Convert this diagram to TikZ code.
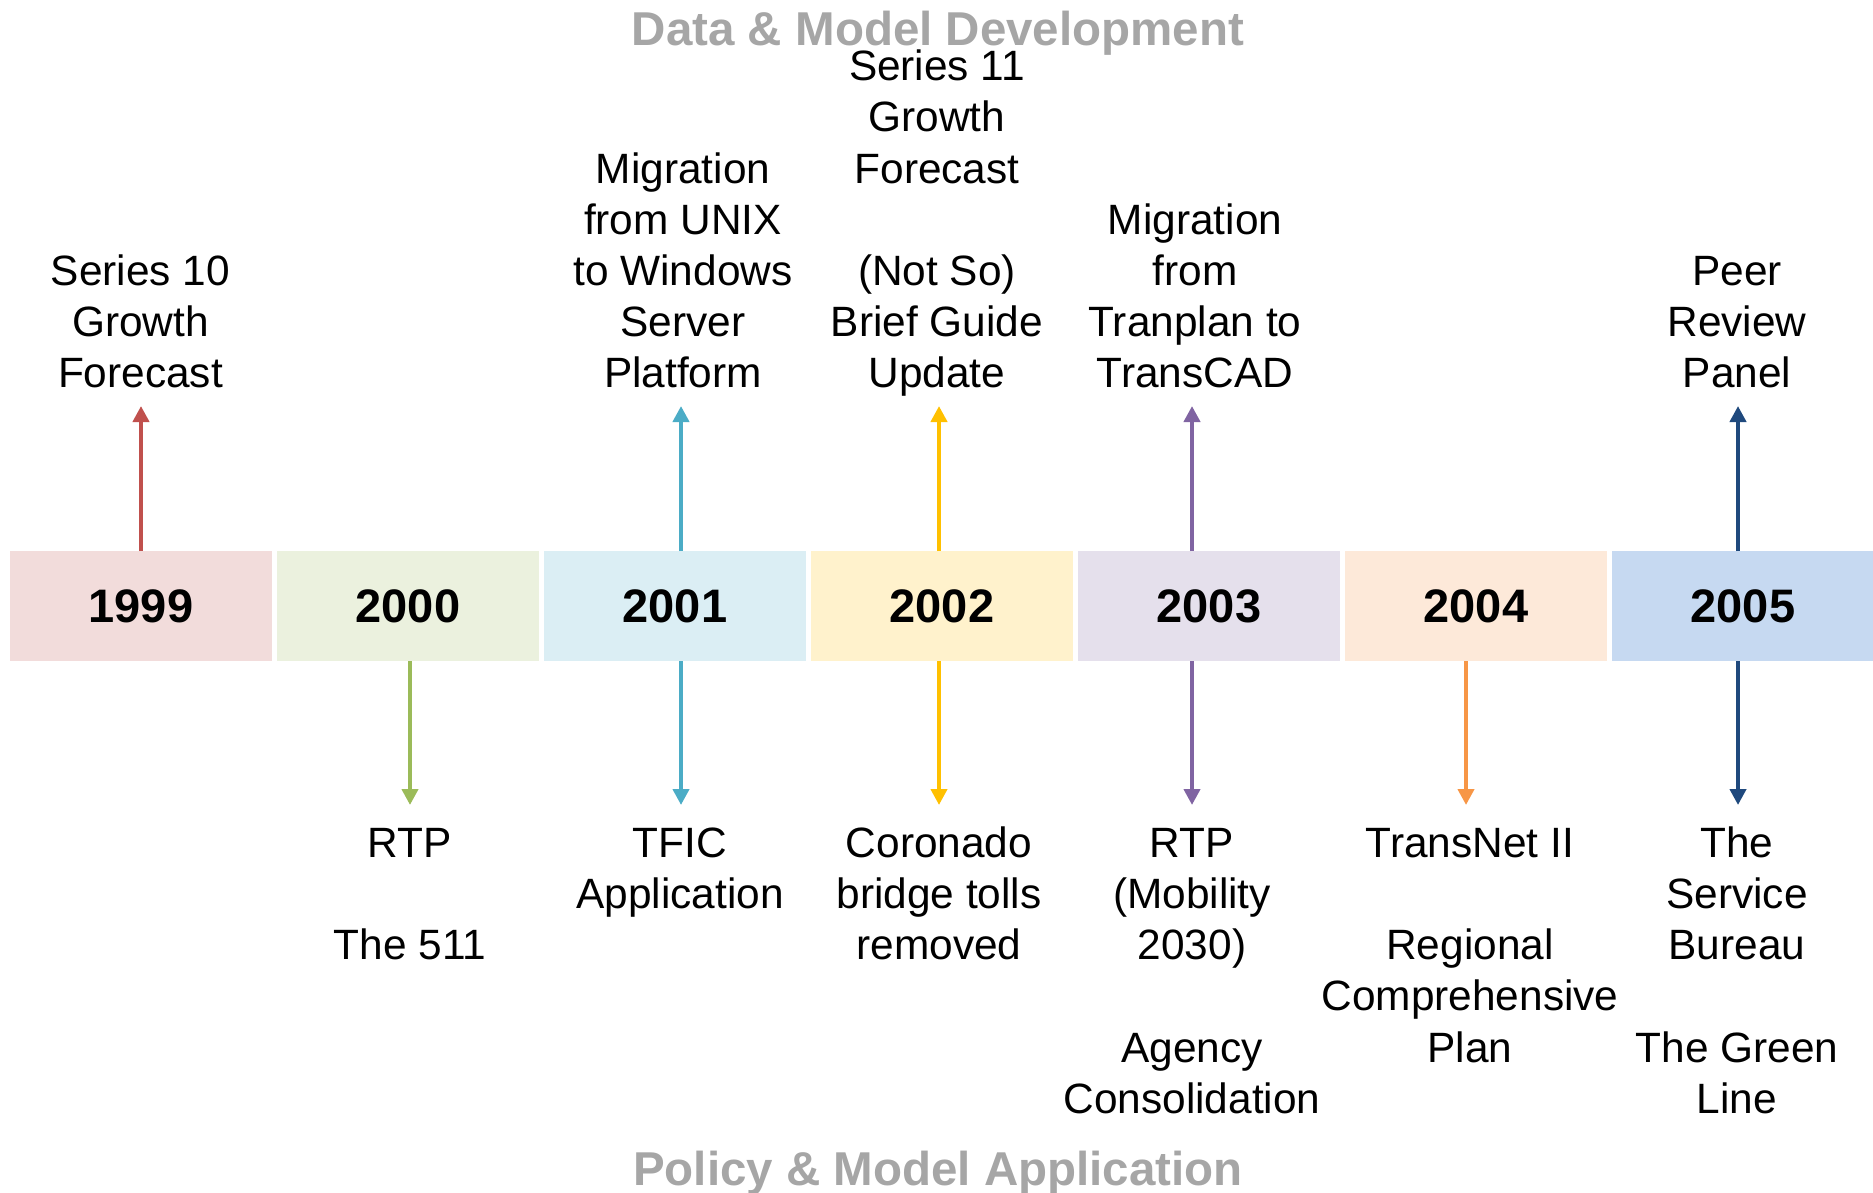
\documentclass[tikz,border=0pt]{standalone}
\usepackage{fontspec}
\setmainfont{Liberation Sans}
\usetikzlibrary{arrows.meta}
\definecolor{fA}{HTML}{F2DCDB}\definecolor{aA}{HTML}{C0504D}
\definecolor{fB}{HTML}{EBF1DE}\definecolor{aB}{HTML}{9BBB59}
\definecolor{fC}{HTML}{DBEEF4}\definecolor{aC}{HTML}{4BACC6}
\definecolor{fD}{HTML}{FFF2CC}\definecolor{aD}{HTML}{FFC000}
\definecolor{fE}{HTML}{E5E0EC}\definecolor{aE}{HTML}{8064A2}
\definecolor{fF}{HTML}{FDE9D9}\definecolor{aF}{HTML}{F79646}
\definecolor{fG}{HTML}{C6D9F1}\definecolor{aG}{HTML}{1F497D}
\definecolor{hdrgray}{HTML}{A6A6A6}
\begin{document}
\begin{tikzpicture}[x=1pt,y=-1pt,
  yearbox/.style={fill=#1, minimum width=262.5pt, minimum height=110pt, inner sep=0pt,
    anchor=north west, font=\fontsize{47}{56}\selectfont\bfseries},
  toplabel/.style={anchor=south, inner sep=0pt, align=center, font=\fontsize{42.4}{51.2}\selectfont},
  botlabel/.style={anchor=north, inner sep=0pt, align=center, font=\fontsize{42.4}{51.2}\selectfont},
  hdr/.style={anchor=base, inner sep=0pt, text=hdrgray, font=\fontsize{47.5}{57}\selectfont\bfseries},
  arr/.style={draw=#1, line width=4.8pt, -{Triangle[width=16pt,length=16pt]}}
]
\useasboundingbox (0,0) rectangle (1873,1192);

% headers
\node[hdr] (hdrtop) at (938,45) {Data \& Model Development};
\node[hdr] (hdrbot) at (938,1185) {Policy \& Model Application};

% year boxes
\node[yearbox=fA] (b1) at (9.5,551) {1999};
\node[yearbox=fB] (b2) at (276.5,551) {2000};
\node[yearbox=fC] (b3) at (543.5,551) {2001};
\node[yearbox=fD] (b4) at (810.5,551) {2002};
\node[yearbox=fE] (b5) at (1077.5,551) {2003};
\node[yearbox=fF] (b6) at (1344.5,551) {2004};
\node[yearbox=fG] (b7) at (1611.5,551) {2005};

% arrow tips
\coordinate (u1) at (141,406);
\coordinate (u3) at (681,406);
\coordinate (u4) at (939,406);
\coordinate (u5) at (1192,406);
\coordinate (u7) at (1738,406);
\coordinate (d2) at (410,805);
\coordinate (d3) at (681,805);
\coordinate (d4) at (939,805);
\coordinate (d5) at (1192,805);
\coordinate (d6) at (1466,805);
\coordinate (d7) at (1738,805);

% arrows
\draw[arr=aA] (b1.north -| u1) -- (u1);
\draw[arr=aC] (b3.north -| u3) -- (u3);
\draw[arr=aD] (b4.north -| u4) -- (u4);
\draw[arr=aE] (b5.north -| u5) -- (u5);
\draw[arr=aG] (b7.north -| u7) -- (u7);
\draw[arr=aB] (b2.south -| d2) -- (d2);
\draw[arr=aC] (b3.south -| d3) -- (d3);
\draw[arr=aD] (b4.south -| d4) -- (d4);
\draw[arr=aE] (b5.south -| d5) -- (d5);
\draw[arr=aF] (b6.south -| d6) -- (d6);
\draw[arr=aG] (b7.south -| d7) -- (d7);

% upper labels
\node[toplabel] (t1) at (140.5,403.4) {\strut Series 10\\\strut Growth\\\strut Forecast};
\node[toplabel] (t3) at (683,403.4) {\strut Migration\\\strut from UNIX\\\strut to Windows\\\strut Server\\\strut Platform};
\node[toplabel] (t4) at (937,403.4) {\strut Series 11\\\strut Growth\\\strut Forecast\\\strut\\\strut (Not So)\\\strut Brief Guide\\\strut Update};
\node[toplabel] (t5) at (1195,403.4) {\strut Migration\\\strut from\\\strut Tranplan to\\\strut TransCAD};
\node[toplabel] (t7) at (1737,403.4) {\strut Peer\\\strut Review\\\strut Panel};

% lower labels
\node[botlabel] (l2) at (410,821.2) {\strut RTP\\\strut\\\strut The 511};
\node[botlabel] (l3) at (680,821.2) {\strut TFIC\\\strut Application};
\node[botlabel] (l4) at (939,821.2) {\strut Coronado\\\strut bridge tolls\\\strut removed};
\node[botlabel] (l5) at (1192,821.2) {\strut RTP\\\strut (Mobility\\\strut 2030)\\\strut\\\strut Agency\\\strut Consolidation};
\node[botlabel] (l6) at (1470,821.2) {\strut TransNet II\\\strut\\\strut Regional\\\strut Comprehensive\\\strut Plan};
\node[botlabel] (l7) at (1737,821.2) {\strut The\\\strut Service\\\strut Bureau\\\strut\\\strut The Green\\\strut Line};
\end{tikzpicture}
\end{document}
